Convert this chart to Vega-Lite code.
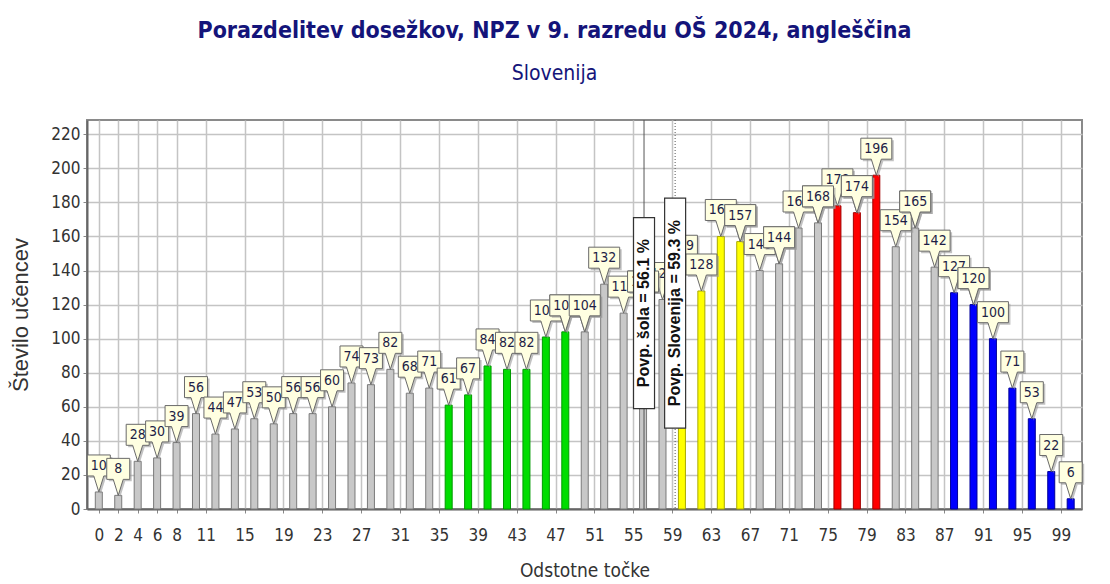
{
  "$schema": "https://vega.github.io/schema/vega-lite/v6.json",
  "width": 995,
  "height": 389,
  "autosize": {"type": "none"},
  "padding": {"left": 87, "top": 120, "right": 28, "bottom": 75},
  "background": "white",
  "config": {
    "view": {"stroke": "#8a8a8a", "strokeWidth": 2},
    "font": "DejaVu Sans Condensed, Liberation Sans Narrow, sans-serif"
  },
  "title": {
    "text": "Porazdelitev dosežkov, NPZ v 9. razredu OŠ 2024, angleščina",
    "subtitle": "Slovenija",
    "anchor": "middle",
    "dx": -30,
    "offset": 36,
    "font": "DejaVu Sans Condensed, Liberation Sans Narrow, sans-serif",
    "fontSize": 23,
    "fontWeight": "bold",
    "color": "#14147a",
    "subtitleFont": "DejaVu Sans Condensed, Liberation Sans Narrow, sans-serif",
    "subtitleFontSize": 21,
    "subtitleColor": "#14147a",
    "subtitlePadding": 20
  },
  "datasets": {
    "bars": [
      {"tocke": 0, "stevilo": 10, "skupina": "0"},
      {"tocke": 2, "stevilo": 8, "skupina": "0"},
      {"tocke": 4, "stevilo": 28, "skupina": "0"},
      {"tocke": 6, "stevilo": 30, "skupina": "0"},
      {"tocke": 8, "stevilo": 39, "skupina": "0"},
      {"tocke": 10, "stevilo": 56, "skupina": "0"},
      {"tocke": 12, "stevilo": 44, "skupina": "0"},
      {"tocke": 14, "stevilo": 47, "skupina": "0"},
      {"tocke": 16, "stevilo": 53, "skupina": "0"},
      {"tocke": 18, "stevilo": 50, "skupina": "0"},
      {"tocke": 20, "stevilo": 56, "skupina": "0"},
      {"tocke": 22, "stevilo": 56, "skupina": "0"},
      {"tocke": 24, "stevilo": 60, "skupina": "0"},
      {"tocke": 26, "stevilo": 74, "skupina": "0"},
      {"tocke": 28, "stevilo": 73, "skupina": "0"},
      {"tocke": 30, "stevilo": 82, "skupina": "0"},
      {"tocke": 32, "stevilo": 68, "skupina": "0"},
      {"tocke": 34, "stevilo": 71, "skupina": "0"},
      {"tocke": 36, "stevilo": 61, "skupina": "A"},
      {"tocke": 38, "stevilo": 67, "skupina": "A"},
      {"tocke": 40, "stevilo": 84, "skupina": "A"},
      {"tocke": 42, "stevilo": 82, "skupina": "A"},
      {"tocke": 44, "stevilo": 82, "skupina": "A"},
      {"tocke": 46, "stevilo": 101, "skupina": "A"},
      {"tocke": 48, "stevilo": 104, "skupina": "A"},
      {"tocke": 50, "stevilo": 104, "skupina": "0"},
      {"tocke": 52, "stevilo": 132, "skupina": "0"},
      {"tocke": 54, "stevilo": 115, "skupina": "0"},
      {"tocke": 56, "stevilo": 118, "skupina": "0"},
      {"tocke": 58, "stevilo": 123, "skupina": "0"},
      {"tocke": 60, "stevilo": 139, "skupina": "B"},
      {"tocke": 62, "stevilo": 128, "skupina": "B"},
      {"tocke": 64, "stevilo": 160, "skupina": "B"},
      {"tocke": 66, "stevilo": 157, "skupina": "B"},
      {"tocke": 68, "stevilo": 140, "skupina": "0"},
      {"tocke": 70, "stevilo": 144, "skupina": "0"},
      {"tocke": 72, "stevilo": 165, "skupina": "0"},
      {"tocke": 74, "stevilo": 168, "skupina": "0"},
      {"tocke": 76, "stevilo": 178, "skupina": "C"},
      {"tocke": 78, "stevilo": 174, "skupina": "C"},
      {"tocke": 80, "stevilo": 196, "skupina": "C"},
      {"tocke": 82, "stevilo": 154, "skupina": "0"},
      {"tocke": 84, "stevilo": 165, "skupina": "0"},
      {"tocke": 86, "stevilo": 142, "skupina": "0"},
      {"tocke": 88, "stevilo": 127, "skupina": "D"},
      {"tocke": 90, "stevilo": 120, "skupina": "D"},
      {"tocke": 92, "stevilo": 100, "skupina": "D"},
      {"tocke": 94, "stevilo": 71, "skupina": "D"},
      {"tocke": 96, "stevilo": 53, "skupina": "D"},
      {"tocke": 98, "stevilo": 22, "skupina": "D"},
      {"tocke": 100, "stevilo": 6, "skupina": "D"}
    ],
    "povp": [
      {"povp": 56.1, "oznaka": "Povp. šola = 56.1 %", "crta": "sola"},
      {"povp": 59.3, "oznaka": "Povp. Slovenija = 59.3 %", "crta": "slo"}
    ]
  },
  "layer": [
    {
      "data": {"name": "bars"},
      "mark": {"type": "bar", "width": 7, "strokeWidth": 1},
      "encoding": {
        "x": {
          "field": "tocke",
          "type": "quantitative",
          "scale": {"domain": [-0.7, 100.65], "nice": false, "zero": false},
          "axis": {
            "values": [0, 2, 4, 6, 8, 11, 15, 19, 23, 27, 31, 35, 39, 43, 47, 51, 55, 59, 63, 67, 71, 75, 79, 83, 87, 91, 95, 99],
            "tickCount": 200,
            "format": "d",
            "labelOverlap": false,
            "labelFlush": false,
            "grid": true,
            "gridColor": "#c4c4c4",
            "gridWidth": 1.5,
            "ticks": true,
            "tickSize": 4,
            "tickColor": "#888888",
            "domainColor": "#666666",
            "domainWidth": 2,
            "labelFont": "DejaVu Sans Condensed, Liberation Sans Narrow, sans-serif",
            "labelFontSize": 17,
            "labelColor": "#333333",
            "labelPadding": 14,
            "title": "Odstotne točke",
            "titleFont": "DejaVu Sans Condensed, Liberation Sans Narrow, sans-serif",
            "titleFontSize": 19,
            "titleFontWeight": "normal",
            "titleColor": "#333333",
            "titlePadding": 18
          }
        },
        "y": {
          "field": "stevilo",
          "type": "quantitative",
          "scale": {"domain": [0, 228.4], "nice": false},
          "axis": {
            "values": [0, 20, 40, 60, 80, 100, 120, 140, 160, 180, 200, 220],
            "tickCount": 200,
            "format": "d",
            "labelOverlap": false,
            "labelFlush": false,
            "grid": true,
            "gridColor": "#c4c4c4",
            "gridWidth": 1.5,
            "tickSize": 4,
            "tickColor": "#888888",
            "domainColor": "#666666",
            "domainWidth": 2,
            "labelFont": "DejaVu Sans Condensed, Liberation Sans Narrow, sans-serif",
            "labelFontSize": 17,
            "labelColor": "#333333",
            "labelPadding": 3,
            "title": "Število učencev",
            "titleFont": "Liberation Sans, Arial, sans-serif",
            "titleFontSize": 22,
            "titleFontWeight": "normal",
            "titleColor": "#333333",
            "titlePadding": 18
          }
        },
        "color": {
          "field": "skupina",
          "type": "nominal",
          "scale": {"domain": ["0", "A", "B", "C", "D"], "range": ["#c8c8c8", "#00dd00", "#ffff00", "#ff0000", "#0000ff"]},
          "legend": null
        },
        "stroke": {
          "field": "skupina",
          "type": "nominal",
          "scale": {"domain": ["0", "A", "B", "C", "D"], "range": ["#7a7a7a", "#009a00", "#a8a800", "#a00000", "#00009a"]},
          "legend": null
        }
      }
    },
    {
      "data": {"name": "bars"},
      "mark": {"type": "point", "filled": true, "size": 4, "fill": "#9a9a9a", "opacity": 0.6, "strokeWidth": 0, "xOffset": 2, "yOffset": 2},
      "encoding": {
        "x": {"field": "tocke", "type": "quantitative"},
        "y": {"field": "stevilo", "type": "quantitative"},
        "shape": {
          "condition": {"test": "datum.stevilo >= 100", "value": "M0,0 L-5,-16 L-15.5,-16 L-15.5,-37 L15.5,-37 L15.5,-16 L5,-16 Z"},
          "value": "M0,0 L-5,-16 L-11.5,-16 L-11.5,-37 L11.5,-37 L11.5,-16 L5,-16 Z"
        }
      }
    },
    {
      "data": {"name": "bars"},
      "mark": {"type": "point", "filled": true, "size": 4, "fill": "#ffffe1", "opacity": 1, "stroke": "#6a6a6a", "strokeWidth": 1},
      "encoding": {
        "x": {"field": "tocke", "type": "quantitative"},
        "y": {"field": "stevilo", "type": "quantitative"},
        "shape": {
          "condition": {"test": "datum.stevilo >= 100", "value": "M0,0 L-5,-16 L-15.5,-16 L-15.5,-37 L15.5,-37 L15.5,-16 L5,-16 Z"},
          "value": "M0,0 L-5,-16 L-11.5,-16 L-11.5,-37 L11.5,-37 L11.5,-16 L5,-16 Z"
        }
      }
    },
    {
      "data": {"name": "bars"},
      "transform": [{"filter": {"not": {"field": "tocke", "oneOf": [48, 50, 56, 66, 70, 74, 78, 84, 90]}}}],
      "mark": {"type": "text", "dy": -26, "baseline": "middle", "align": "center", "fontSize": 14, "font": "DejaVu Sans Condensed, Liberation Sans Narrow, sans-serif", "color": "#1e1e46"},
      "encoding": {
        "x": {"field": "tocke", "type": "quantitative"},
        "y": {"field": "stevilo", "type": "quantitative"},
        "text": {"field": "stevilo", "type": "quantitative"}
      }
    },
    {
      "data": {"name": "bars"},
      "transform": [{"filter": {"field": "tocke", "oneOf": [48, 56, 66, 70, 74, 78, 84, 90]}}],
      "mark": {"type": "point", "filled": true, "size": 4, "fill": "#9a9a9a", "opacity": 0.6, "strokeWidth": 0, "xOffset": 2, "yOffset": 2},
      "encoding": {
        "x": {"field": "tocke", "type": "quantitative"},
        "y": {"field": "stevilo", "type": "quantitative"},
        "shape": {
          "condition": {"test": "datum.stevilo >= 100", "value": "M0,0 L-5,-16 L-15.5,-16 L-15.5,-37 L15.5,-37 L15.5,-16 L5,-16 Z"},
          "value": "M0,0 L-5,-16 L-11.5,-16 L-11.5,-37 L11.5,-37 L11.5,-16 L5,-16 Z"
        }
      }
    },
    {
      "data": {"name": "bars"},
      "transform": [{"filter": {"field": "tocke", "oneOf": [48, 56, 66, 70, 74, 78, 84, 90]}}],
      "mark": {"type": "point", "filled": true, "size": 4, "fill": "#ffffe1", "opacity": 1, "stroke": "#6a6a6a", "strokeWidth": 1},
      "encoding": {
        "x": {"field": "tocke", "type": "quantitative"},
        "y": {"field": "stevilo", "type": "quantitative"},
        "shape": {
          "condition": {"test": "datum.stevilo >= 100", "value": "M0,0 L-5,-16 L-15.5,-16 L-15.5,-37 L15.5,-37 L15.5,-16 L5,-16 Z"},
          "value": "M0,0 L-5,-16 L-11.5,-16 L-11.5,-37 L11.5,-37 L11.5,-16 L5,-16 Z"
        }
      }
    },
    {
      "data": {"name": "bars"},
      "transform": [{"filter": {"field": "tocke", "oneOf": [48, 56, 66, 70, 74, 78, 84, 90]}}],
      "mark": {"type": "text", "dy": -26, "baseline": "middle", "align": "center", "fontSize": 14, "font": "DejaVu Sans Condensed, Liberation Sans Narrow, sans-serif", "color": "#1e1e46"},
      "encoding": {
        "x": {"field": "tocke", "type": "quantitative"},
        "y": {"field": "stevilo", "type": "quantitative"},
        "text": {"field": "stevilo", "type": "quantitative"}
      }
    },
    {
      "data": {"name": "bars"},
      "transform": [{"filter": {"field": "tocke", "oneOf": [50]}}],
      "mark": {"type": "point", "filled": true, "size": 4, "fill": "#9a9a9a", "opacity": 0.6, "strokeWidth": 0, "xOffset": 2, "yOffset": 2},
      "encoding": {
        "x": {"field": "tocke", "type": "quantitative"},
        "y": {"field": "stevilo", "type": "quantitative"},
        "shape": {"value": "M0,0 L-5,-16 L-15.5,-16 L-15.5,-37 L15.5,-37 L15.5,-16 L5,-16 Z"}
      }
    },
    {
      "data": {"name": "bars"},
      "transform": [{"filter": {"field": "tocke", "oneOf": [50]}}],
      "mark": {"type": "point", "filled": true, "size": 4, "fill": "#ffffe1", "opacity": 1, "stroke": "#6a6a6a", "strokeWidth": 1},
      "encoding": {
        "x": {"field": "tocke", "type": "quantitative"},
        "y": {"field": "stevilo", "type": "quantitative"},
        "shape": {"value": "M0,0 L-5,-16 L-15.5,-16 L-15.5,-37 L15.5,-37 L15.5,-16 L5,-16 Z"}
      }
    },
    {
      "data": {"name": "bars"},
      "transform": [{"filter": {"field": "tocke", "oneOf": [50]}}],
      "mark": {"type": "text", "dy": -26, "baseline": "middle", "align": "center", "fontSize": 14, "font": "DejaVu Sans Condensed, Liberation Sans Narrow, sans-serif", "color": "#1e1e46"},
      "encoding": {
        "x": {"field": "tocke", "type": "quantitative"},
        "y": {"field": "stevilo", "type": "quantitative"},
        "text": {"field": "stevilo", "type": "quantitative"}
      }
    },
    {
      "data": {"name": "povp"},
      "mark": {"type": "rule", "color": "#555555", "strokeWidth": 1},
      "encoding": {
        "x": {"field": "povp", "type": "quantitative"},
        "strokeDash": {
          "field": "crta",
          "type": "nominal",
          "scale": {"domain": ["sola", "slo"], "range": [[1, 0], [1, 2]]},
          "legend": null
        }
      }
    },
    {
      "data": {"name": "povp"},
      "mark": {"type": "point", "filled": true, "size": 4, "fill": "#ffffff", "opacity": 1, "stroke": "#333333", "strokeWidth": 1.2},
      "encoding": {
        "x": {"field": "povp", "type": "quantitative"},
        "y": {"datum": 115, "type": "quantitative"},
        "shape": {
          "condition": {"test": "datum.crta == 'slo'", "value": "M-10.5,-115 L10.5,-115 L10.5,115 L-10.5,115 Z"},
          "value": "M-10.5,-95.5 L10.5,-95.5 L10.5,95.5 L-10.5,95.5 Z"
        }
      }
    },
    {
      "data": {"name": "povp"},
      "mark": {"type": "text", "angle": 270, "baseline": "middle", "align": "center", "fontSize": 16, "fontWeight": "bold", "font": "Liberation Sans, Arial, sans-serif", "color": "#111111"},
      "encoding": {
        "x": {"field": "povp", "type": "quantitative"},
        "y": {"datum": 115, "type": "quantitative"},
        "text": {"field": "oznaka", "type": "nominal"}
      }
    }
  ]
}
